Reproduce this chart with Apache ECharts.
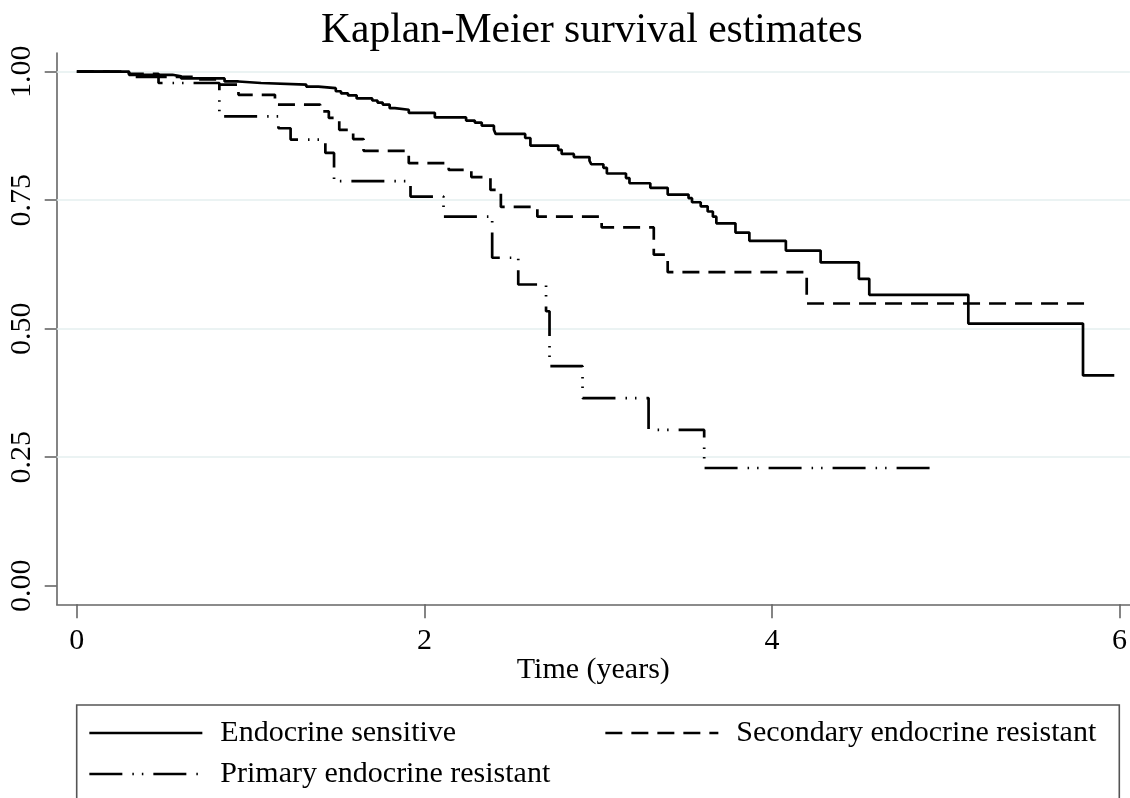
<!DOCTYPE html>
<html>
<head>
<meta charset="utf-8">
<script src="https://cdn.jsdelivr.net/npm/echarts@6/dist/echarts.min.js"></script>
<style>
html,body{margin:0;padding:0;background:#fff;}
#chart{width:1130px;height:798px;}
</style>
</head>
<body>
<div id="chart"></div>
<script>
// Kaplan-Meier step data: [time (years), survival]
var seriesNames = ['Endocrine sensitive', 'Secondary endocrine resistant', 'Primary endocrine resistant'];
var sensitive = [[0,1.0],[0.30,0.994],[0.55,0.991],[0.60,0.987],[0.85,0.981],[0.93,0.978],[1.06,0.975],[1.32,0.971],[1.39,0.968],[1.49,0.962],[1.52,0.958],[1.56,0.954],[1.61,0.948],[1.70,0.944],[1.73,0.940],[1.76,0.936],[1.80,0.929],[1.83,0.926],[1.91,0.920],[2.06,0.911],[2.24,0.905],[2.29,0.901],[2.33,0.895],[2.40,0.887],[2.41,0.879],[2.58,0.871],[2.61,0.856],[2.77,0.848],[2.79,0.840],[2.86,0.834],[2.95,0.827],[2.96,0.820],[3.03,0.813],[3.05,0.802],[3.16,0.793],[3.18,0.783],[3.30,0.774],[3.40,0.761],[3.52,0.754],[3.54,0.746],[3.59,0.738],[3.63,0.728],[3.66,0.718],[3.68,0.705],[3.79,0.687],[3.87,0.671],[4.08,0.652],[4.28,0.629],[4.50,0.597],[4.56,0.566],[5.13,0.510],[5.79,0.409],[5.97,0.409]];
var secondary = [[0,1.0],[0.30,0.996],[0.47,0.990],[0.70,0.985],[0.81,0.975],[0.93,0.955],[1.14,0.936],[1.40,0.923],[1.45,0.910],[1.51,0.887],[1.59,0.869],[1.65,0.846],[1.91,0.822],[2.14,0.809],[2.27,0.795],[2.38,0.770],[2.44,0.737],[2.65,0.718],[3.02,0.697],[3.32,0.644],[3.40,0.610],[4.20,0.549],[5.83,0.549]];
var primary = [[0,1.0],[0.30,0.990],[0.47,0.978],[0.82,0.913],[1.16,0.890],[1.23,0.868],[1.43,0.842],[1.48,0.787],[1.92,0.757],[2.11,0.718],[2.39,0.638],[2.54,0.586],[2.70,0.534],[2.72,0.427],[2.91,0.365],[3.29,0.303],[3.61,0.229],[4.92,0.229]];
var xTicks = [0, 2, 4, 6];
var yTicks = [0, 0.25, 0.5, 0.75, 1.0];
var gridValues = [0.25, 0.5, 0.75, 1.0];

var FONT = '"Liberation Serif", "Times New Roman", serif';
var chart = echarts.init(document.getElementById('chart'), null, {renderer: 'canvas'});

function lineSeries(name, data, type, extra) {
  var s = {
    name: name,
    type: 'line',
    step: 'end',
    data: data,
    symbol: 'none',
    showSymbol: false,
    silent: true,
    animation: false,
    lineStyle: {color: '#000', width: 2.7, type: type},
    z: 3
  };
  if (extra) { for (var k in extra) s[k] = extra[k]; }
  return s;
}

function mkLegend(name, left, top) {
  return {
    data: [name],
    left: left,
    top: top,
    padding: 0,
    orient: 'horizontal',
    itemWidth: 113,
    itemHeight: 14,
    itemGap: 0,
    selectedMode: false,
    itemStyle: {opacity: 0, borderWidth: 0},
    lineStyle: {width: 2.7},
    textStyle: {fontFamily: FONT, fontSize: 30, color: '#000', padding: [0, 0, 0, 13]}
  };
}

var option = {
  backgroundColor: '#fff',
  animation: false,
  title: {
    text: 'Kaplan-Meier survival estimates',
    left: 316,
    top: 5,
    textStyle: {fontFamily: FONT, fontSize: 41.5, fontWeight: 'normal', color: '#000'}
  },
  legend: [
    mkLegend(seriesNames[0], 88, 718),
    mkLegend(seriesNames[1], 604, 718),
    mkLegend(seriesNames[2], 88, 759)
  ],
  grid: {left: 56.7, right: 0, top: 53, bottom: 193.7, containLabel: false},
  xAxis: {
    type: 'value',
    min: -0.116,
    max: 6.06,
    name: 'Time (years)',
    nameLocation: 'middle',
    nameGap: 51,
    nameMoveOverlap: false,
    nameTextStyle: {fontFamily: FONT, fontSize: 30, color: '#000'},
    axisLine: {show: true, onZero: false, lineStyle: {color: '#666', width: 1.6}},
    axisTick: {show: true, length: 14, customValues: xTicks, lineStyle: {color: '#666', width: 1.6}},
    axisLabel: {customValues: xTicks, margin: 22, fontFamily: FONT, fontSize: 30, color: '#000'},
    splitLine: {show: false}
  },
  yAxis: {
    type: 'value',
    min: -0.0362,
    max: 1.0364,
    axisLine: {show: true, onZero: false, lineStyle: {color: '#666', width: 1.6}},
    axisTick: {show: true, length: 12, customValues: yTicks, lineStyle: {color: '#666', width: 1.6}},
    axisLabel: {customValues: yTicks, rotate: 90, margin: 20, fontFamily: FONT, fontSize: 30, color: '#000',
      formatter: function (v) { return v.toFixed(2); }},
    splitLine: {show: false}
  },
  series: [
    lineSeries(seriesNames[0], sensitive, 'solid', {
      markLine: {
        silent: true,
        symbol: ['none', 'none'],
        label: {show: false},
        z: 1,
        lineStyle: {color: '#e4efef', width: 1.6, type: 'solid'},
        data: gridValues.map(function (v) { return {yAxis: v}; })
      }
    }),
    lineSeries(seriesNames[1], secondary, [17, 9]),
    lineSeries(seriesNames[2], primary, [33, 10, 1.5, 8, 1.5, 10])
  ],
  graphic: [{
    type: 'rect',
    shape: {x: 76.7, y: 705, width: 1042.6, height: 110},
    style: {fill: 'none', stroke: '#555', lineWidth: 1.6},
    silent: true,
    z: 0
  }]
};
chart.setOption(option);
</script>
</body>
</html>
